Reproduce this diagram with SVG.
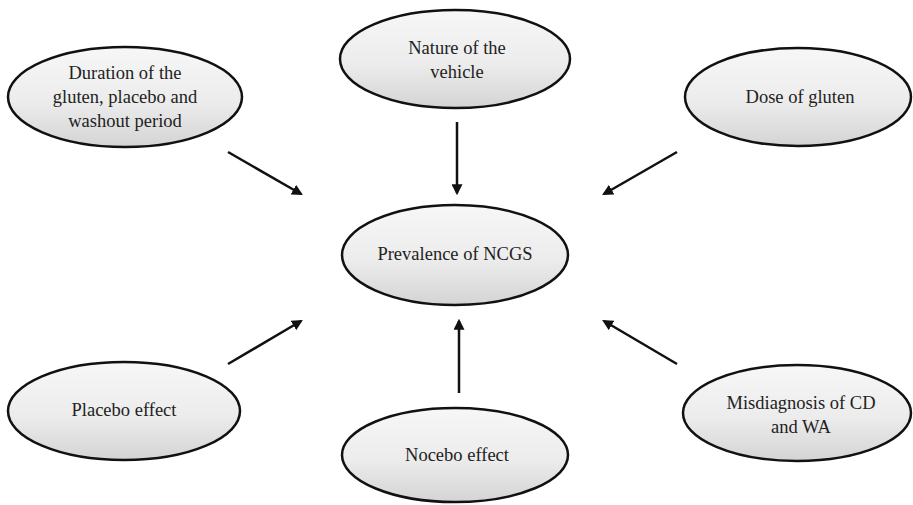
<svg xmlns="http://www.w3.org/2000/svg" width="913" height="505" viewBox="0 0 913 505">
<style>
.node ellipse{fill:url(#g);stroke:#111;stroke-width:2.5}
.node text{font-family:"Liberation Serif","DejaVu Serif",serif;font-size:18.5px;fill:#222;text-anchor:middle}
#connectors line{stroke:#111;stroke-width:2.5;marker-end:url(#ah)}
</style>
<defs>
<linearGradient id="g" x1="0" y1="0" x2="0" y2="1">
<stop offset="0" stop-color="#f7f7f7"/>
<stop offset="0.55" stop-color="#ececec"/>
<stop offset="1" stop-color="#d4d4d4"/>
</linearGradient>
<marker id="ah" viewBox="0 0 10 10" refX="8" refY="5" markerWidth="4.4" markerHeight="4.4" orient="auto" markerUnits="strokeWidth">
<path d="M0,0 L10,5 L0,10 z" fill="#111"/>
</marker>
</defs>
<rect width="913" height="505" fill="#fff"/>
<g id="duration" class="node">
<ellipse cx="125" cy="97" rx="117" ry="50"/>
<text x="125" y="79">Duration of the</text>
<text x="125" y="103">gluten, placebo and</text>
<text x="125" y="127">washout period</text>
</g>
<g id="nature" class="node">
<ellipse cx="455" cy="59" rx="115" ry="49"/>
<text x="457" y="54">Nature of the</text>
<text x="457" y="78">vehicle</text>
</g>
<g id="dose" class="node">
<ellipse cx="798" cy="97" rx="113" ry="49"/>
<text x="800" y="103">Dose of gluten</text>
</g>
<g id="prevalence" class="node">
<ellipse cx="455" cy="255" rx="113" ry="50"/>
<text x="455" y="260">Prevalence of NCGS</text>
</g>
<g id="placebo" class="node">
<ellipse cx="124" cy="411" rx="116" ry="49"/>
<text x="124" y="416">Placebo effect</text>
</g>
<g id="nocebo" class="node">
<ellipse cx="455" cy="455" rx="113" ry="47"/>
<text x="457" y="461">Nocebo effect</text>
</g>
<g id="misdiagnosis" class="node">
<ellipse cx="797" cy="413" rx="114" ry="48"/>
<text x="801" y="409">Misdiagnosis of CD</text>
<text x="801" y="433">and WA</text>
</g>
<g id="connectors">
<line x1="228" y1="152" x2="301" y2="194"/>
<line x1="457" y1="122" x2="457" y2="193"/>
<line x1="677" y1="152" x2="604" y2="194"/>
<line x1="228" y1="364" x2="301" y2="321"/>
<line x1="459" y1="393" x2="459" y2="321"/>
<line x1="677" y1="364" x2="604" y2="321"/>
</g>
</svg>
